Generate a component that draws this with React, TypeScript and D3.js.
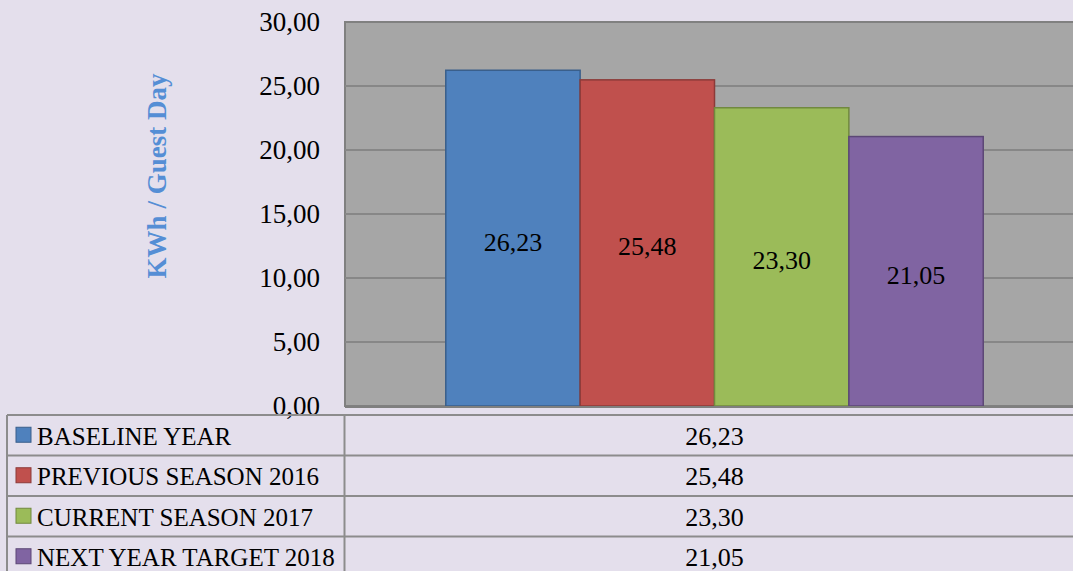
import React, { useEffect, useRef } from "react";
import * as d3 from "d3";

// chart data
const seriesNames = ["BASELINE YEAR", "PREVIOUS SEASON 2016", "CURRENT SEASON 2017", "NEXT YEAR TARGET 2018"];
const seriesValues = [26.23, 25.48, 23.3, 21.05];
const seriesColors = ["#4F81BD", "#C0504D", "#9BBB59", "#8064A2"];
const seriesBorders = ["#3A5F8B", "#8C3A38", "#71893F", "#5C4776"];
const yTicks = [0, 5, 10, 15, 20, 25, 30];
const yTitle = "KWh / Guest Day";

const W = 1073;
const H = 571;

const fmt = (v) => d3.format(".2f")(v).replace(".", ",");

export default function App() {
	const ref = useRef(null);

	useEffect(() => {
		const svg = d3.select(ref.current);
		svg.selectAll("*").remove();

		const plot = { left: 345, right: 1084, top: 22, bottom: 406 };
		const font = "'Liberation Serif', 'Times New Roman', serif";

		svg.append("rect").attr("width", W).attr("height", H).attr("fill", "#E4DFEC");

		const y = d3.scaleLinear().domain([0, 30]).range([plot.bottom, plot.top]);
		const x = d3
			.scaleBand()
			.domain(seriesNames)
			.range([plot.left, plot.right])
			.paddingInner(0)
			.paddingOuter(0.75);

		// plot background
		svg
			.append("rect")
			.attr("x", plot.left)
			.attr("y", plot.top)
			.attr("width", plot.right - plot.left)
			.attr("height", plot.bottom - plot.top)
			.attr("fill", "#A6A6A6")
			.attr("stroke", "#808080")
			.attr("stroke-width", 2);

		// gridlines
		svg
			.selectAll(".grid")
			.data(yTicks.filter((t) => t > 0 && t < 30))
			.enter()
			.append("line")
			.attr("x1", plot.left)
			.attr("x2", plot.right)
			.attr("y1", (d) => y(d))
			.attr("y2", (d) => y(d))
			.attr("stroke", "#878787")
			.attr("stroke-width", 2);

		// bars
		svg
			.selectAll(".bar")
			.data(seriesValues)
			.enter()
			.append("rect")
			.attr("x", (d, i) => x(seriesNames[i]))
			.attr("y", (d) => y(d))
			.attr("width", x.bandwidth())
			.attr("height", (d) => y(0) - y(d))
			.attr("fill", (d, i) => seriesColors[i])
			.attr("stroke", (d, i) => seriesBorders[i])
			.attr("stroke-width", 1.5);

		// bar labels
		svg
			.selectAll(".barlabel")
			.data(seriesValues)
			.enter()
			.append("text")
			.attr("x", (d, i) => x(seriesNames[i]) + x.bandwidth() / 2)
			.attr("y", (d) => (y(d) + y(0)) / 2 + 4)
			.attr("text-anchor", "middle")
			.attr("dominant-baseline", "central")
			.attr("font-family", font)
			.attr("font-size", 26)
			.attr("fill", "#000")
			.text((d) => fmt(d));

		// axis line at bottom
		svg
			.append("line")
			.attr("x1", plot.left)
			.attr("x2", plot.right)
			.attr("y1", plot.bottom + 1)
			.attr("y2", plot.bottom + 1)
			.attr("stroke", "#7F7F7F")
			.attr("stroke-width", 2);

		// y tick labels
		svg
			.selectAll(".ytick")
			.data(yTicks)
			.enter()
			.append("text")
			.attr("x", 320)
			.attr("y", (d) => y(d))
			.attr("text-anchor", "end")
			.attr("dominant-baseline", "central")
			.attr("font-family", font)
			.attr("font-size", 27)
			.attr("fill", "#000")
			.text((d) => fmt(d));

		// y title
		svg
			.append("text")
			.attr("transform", "translate(166,176) rotate(-90)")
			.attr("text-anchor", "middle")
			.attr("font-family", font)
			.attr("font-weight", "bold")
			.attr("font-size", 27)
			.attr("fill", "#558ED5")
			.text(yTitle);

		// data table
		const rows = d3.scaleBand().domain(seriesNames).range([415, 415 + 40.5 * 4]);
		const tbl = svg.append("g");
		const lineColor = "#8C8C8C";

		tbl
			.selectAll(".hline")
			.data(seriesNames.concat(["end"]))
			.enter()
			.append("line")
			.attr("x1", 7)
			.attr("x2", plot.right)
			.attr("y1", (d, i) => 415 + rows.bandwidth() * i)
			.attr("y2", (d, i) => 415 + rows.bandwidth() * i)
			.attr("stroke", lineColor)
			.attr("stroke-width", 2);

		[7, plot.left - 0.5, plot.right].forEach((vx) => {
			tbl
				.append("line")
				.attr("x1", vx)
				.attr("x2", vx)
				.attr("y1", 415)
				.attr("y2", H + 10)
				.attr("stroke", lineColor)
				.attr("stroke-width", 2);
		});

		const row = tbl
			.selectAll(".row")
			.data(seriesNames)
			.enter()
			.append("g")
			.attr("transform", (d) => `translate(0,${rows(d) + rows.bandwidth() / 2})`);

		row
			.append("rect")
			.attr("x", 16)
			.attr("y", -8)
			.attr("width", 15)
			.attr("height", 15)
			.attr("fill", (d, i) => seriesColors[i])
			.attr("stroke", (d, i) => seriesBorders[i])
			.attr("stroke-width", 1);

		row
			.append("text")
			.attr("x", 37)
			.attr("y", 1)
			.attr("dominant-baseline", "central")
			.attr("font-family", font)
			.attr("font-size", 25)
			.attr("fill", "#000")
			.text((d) => d);

		row
			.append("text")
			.attr("x", (plot.left + plot.right) / 2)
			.attr("y", 1)
			.attr("text-anchor", "middle")
			.attr("dominant-baseline", "central")
			.attr("font-family", font)
			.attr("font-size", 26)
			.attr("fill", "#000")
			.text((d, i) => fmt(seriesValues[i]));
	}, []);

	return (
		<svg
			ref={ref}
			width={W}
			height={H}
			style={{ position: "absolute", left: 0, top: 0, display: "block" }}
		/>
	);
}
